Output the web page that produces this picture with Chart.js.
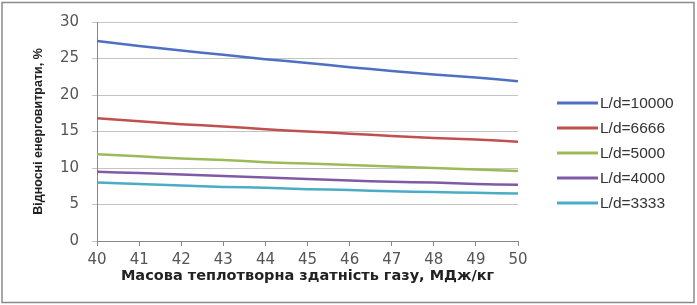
<!DOCTYPE html>
<html><head><meta charset="utf-8">
<script src="https://cdn.jsdelivr.net/npm/chart.js@4.4.1/dist/chart.umd.min.js"></script>
<style>html,body{margin:0;padding:0;background:#fff}#wrap{width:697px;height:305px;position:relative}</style>
</head><body><div id="wrap"><canvas id="c" width="697" height="305"></canvas></div>
<script>
const xValues = [40,41,42,43,44,45,46,47,48,49,50];
const seriesNames = ['L/d=10000','L/d=6666','L/d=5000','L/d=4000','L/d=3333'];
const ld10000 = [27.4,26.7,26.1,25.5,24.9,24.4,23.8,23.3,22.8,22.4,21.9];
const ld6666  = [16.8,16.4,16.0,15.7,15.3,15.0,14.7,14.4,14.1,13.9,13.6];
const ld5000  = [11.9,11.6,11.3,11.1,10.8,10.6,10.4,10.2,10.0,9.8,9.6];
const ld4000  = [9.5,9.3,9.1,8.9,8.7,8.5,8.3,8.1,8.0,7.8,7.7];
const ld3333  = [8.0,7.8,7.6,7.4,7.3,7.1,7.0,6.8,6.7,6.6,6.5];
const seriesValues = [ld10000, ld6666, ld5000, ld4000, ld3333];
const colors = ['#4F6FC4','#C0504D','#9BBB59','#7F5BA6','#4BACC6'];
const yTicks = [0,5,10,15,20,25,30];
const xTitle = 'Масова теплотворна здатність газу, МДж/кг';
const yTitle = 'Відносні енерговитрати, %';

const frame = {
  id:'frame',
  beforeDraw(ch){const c=ch.ctx;c.save();c.fillStyle='#fff';c.fillRect(0,0,ch.width,ch.height);c.restore();},
  afterDraw(ch){
    const c=ch.ctx, a=ch.chartArea;c.save();
    c.strokeStyle='#8a8a8a';c.lineWidth=1.5;c.strokeRect(2,2.5,ch.width-5,ch.height-5);
    // x axis title
    c.fillStyle='#222';c.font='bold 14.5px "DejaVu Sans"';c.textAlign='center';c.textBaseline='middle';
    c.fillText(xTitle,(a.left+a.right)/2,a.bottom+35);
    // legend
    const x0 = a.right + 39, rowH = 25, y0 = 103;
    c.font = '15.5px "Liberation Sans"';c.textBaseline='middle';c.textAlign='left';
    ch.data.datasets.forEach((ds,i)=>{
      const y = y0 + i*rowH;
      c.strokeStyle = ds.borderColor; c.lineWidth = 3;
      c.beginPath(); c.moveTo(x0,y); c.lineTo(x0+41,y); c.stroke();
      c.fillStyle = '#333'; c.fillText(ds.label, x0+43, y+1);
    });
    c.restore();
  }
};

new Chart(document.getElementById('c'),{
  type:'line',
  data:{datasets:seriesNames.map((n,i)=>({
    label:n,
    data:xValues.map((x,j)=>({x:x,y:seriesValues[i][j]})),
    borderColor:colors[i],backgroundColor:colors[i],
    borderWidth:2.5,pointRadius:0,tension:0.2,fill:false
  }))},
  options:{
    responsive:false,animation:false,
    layout:{padding:{left:31,right:179,top:3,bottom:29}},
    plugins:{legend:{display:false},tooltip:{enabled:false}},
    scales:{
      x:{type:'linear',min:40,max:50,
        ticks:{stepSize:1,color:'#555',font:{family:'DejaVu Sans',size:15},padding:5},
        grid:{drawOnChartArea:false,drawTicks:true,tickLength:5,color:'#888'},
        border:{color:'#888'},
        title:{display:false},
        afterFit(s){s.height=35;}
      },
      y:{min:0,max:30,
        afterBuildTicks(s){s.ticks=yTicks.map(v=>({value:v}));},
        ticks:{color:'#555',font:{family:'DejaVu Sans',size:15},padding:13},
        grid:{color:'#c4c4c4',tickLength:5},
        border:{color:'#888'},
        title:{display:true,text:yTitle,color:'#222',font:{family:'Liberation Sans',size:12.5,weight:'bold'},padding:{top:0,bottom:1}}
      }
    }
  },
  plugins:[frame]
});
</script></body></html>
